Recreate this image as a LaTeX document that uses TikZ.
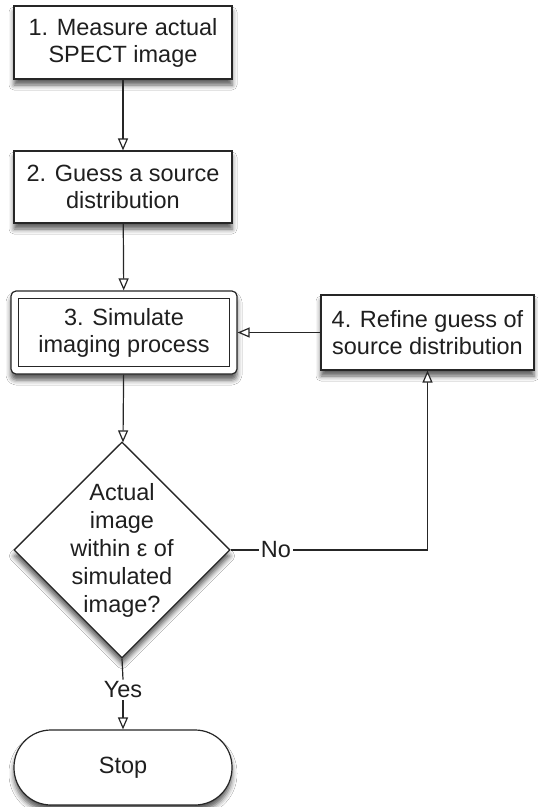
\documentclass[tikz,border=0pt]{standalone}
\usepackage{fontspec}
\setmainfont{Liberation Sans}
\usetikzlibrary{shapes.geometric,arrows.meta,shadows.blur}
\begin{document}
\begin{tikzpicture}[x=1pt,y=-1pt,
  ln/.style={draw=black!85, line width=1.2pt},
  shd/.style={blur shadow={shadow xshift=0pt, shadow yshift=-6pt, shadow blur radius=5pt, shadow opacity=65}},
  box/.style={ln, fill=white, shd, align=center, inner sep=0pt, text=black!88,
    font=\fontsize{23.5}{27}\selectfont},
  lbl/.style={inner sep=2pt, text=black!88, font=\fontsize{23.5}{27}\selectfont},
  arr/.style={ln, -{Triangle[open, length=12pt, width=10pt, fill=white]}},
]
\useasboundingbox (0,0) rectangle (538,807);
\fill[white] (0,0) rectangle (538,807);

\node[box, minimum width=218pt, minimum height=73pt] (b1) at (123,42.5) {1. Measure actual\\SPECT image};
\node[box, minimum width=218pt, minimum height=72pt] (b2) at (123,187) {2. Guess a source\\distribution};
\node[box, rounded corners=5pt, minimum width=226pt, minimum height=83pt] (b3) at (124,332.5) {3. Simulate\\imaging process};
\draw[ln] ([xshift=8pt,yshift=-8pt]b3.north west) rectangle ([xshift=-8pt,yshift=8pt]b3.south east);
\node[box, minimum width=213pt, minimum height=75pt] (b4) at (427.5,332.5) {4. Refine guess of\\source distribution};
\node[diamond, ln, fill=white, shd, minimum width=216pt, minimum height=216pt, inner sep=0pt] (d) at (122,550) {};
\node[lbl, align=center, font=\fontsize{23.5}{28}\selectfont] (dt) at (122,550) {Actual\\image\\within ε of\\simulated\\image?};
\node[lbl] (no) at (276,550) {No};
\node[lbl] (yes) at (123,690) {Yes};
\node[box, rounded corners=37pt, minimum width=218pt, minimum height=75pt] (stop) at (123,767.5) {Stop};

\draw[arr] (b1) -- (b2);
\draw[arr] (b2) -- (b3);
\draw[arr] (b4) -- (b3);
\draw[arr] (b3) -- (d);
\draw[ln] (d.east) -- (no.west);
\draw[arr] (no.east) -| (b4.south);
\draw[ln] (d.south) -- (yes.north);
\draw[arr] (yes.south) -- (stop.north);
\end{tikzpicture}
\end{document}
